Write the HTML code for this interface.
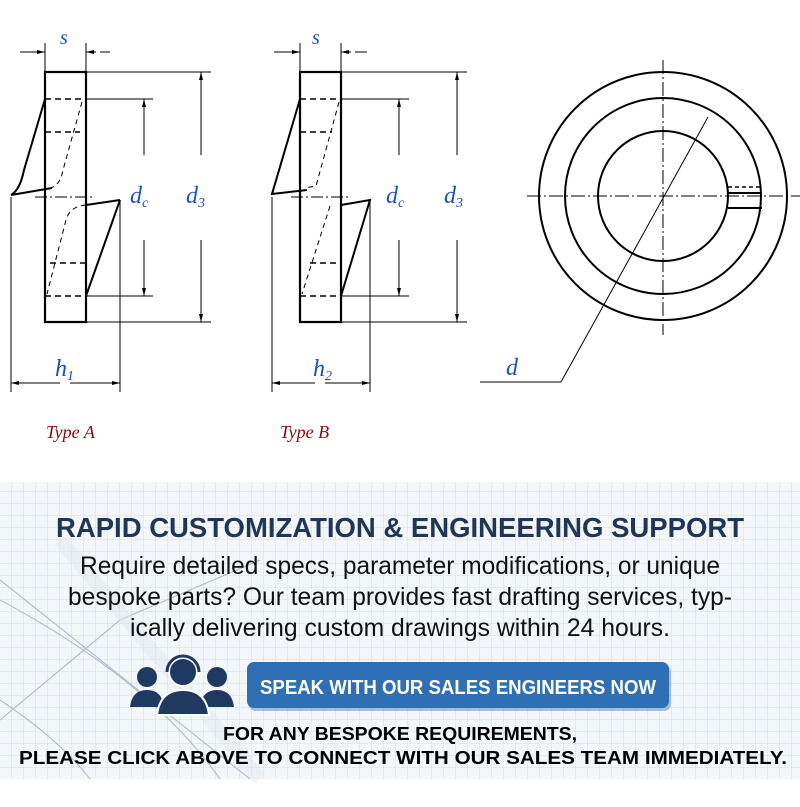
<!DOCTYPE html>
<html><head><meta charset="utf-8"><style>
html,body{margin:0;padding:0;background:#fff;width:800px;height:807px;overflow:hidden}
svg{display:block}
</style></head><body>
<svg width="800" height="807" viewBox="0 0 800 807" xmlns="http://www.w3.org/2000/svg">
<defs>
<pattern id="g" width="12" height="12" patternUnits="userSpaceOnUse">
<rect width="12" height="12" fill="#f4f7fa"/>
<path d="M12 0V12M0 12H12" stroke="#d3dde8" stroke-width="1"/>
</pattern>
<marker id="ar" markerWidth="8" markerHeight="6" refX="8" refY="3" orient="auto" markerUnits="userSpaceOnUse"><path d="M0,1 L8,3 L0,5z" fill="#000"/></marker>
</defs>
<rect width="800" height="807" fill="#fff"/>
<!-- banner -->
<rect x="0" y="482" width="800" height="297" fill="url(#g)"/>
<g stroke="#9fb3c8" fill="none" stroke-width="1.2" opacity="0.8">
<path d="M0 580 L250 779"/><path d="M0 720 L120 620 L260 560"/>
<path d="M0 600 Q150 680 220 779"/><path d="M0 700 Q60 740 90 779"/>
<path d="M60 540 L260 779" stroke="#dbe4ec" stroke-width="14" opacity="0.5"/>
</g>
<g font-family="Liberation Sans, sans-serif" text-anchor="middle">
<text x="400" y="537" font-size="28" font-weight="bold" fill="#1e3658" textLength="688" lengthAdjust="spacingAndGlyphs">RAPID CUSTOMIZATION &amp; ENGINEERING SUPPORT</text>
<text x="400" y="574" font-size="25" fill="#111" textLength="640" lengthAdjust="spacingAndGlyphs">Require detailed specs, parameter modifications, or unique</text>
<text x="400" y="605" font-size="25" fill="#111" textLength="664" lengthAdjust="spacingAndGlyphs">bespoke parts? Our team provides fast drafting services, typ-</text>
<text x="400" y="636" font-size="25" fill="#111" textLength="540" lengthAdjust="spacingAndGlyphs">ically delivering custom drawings within 24 hours.</text>
</g>
<rect x="249" y="665" width="422" height="46" rx="7" fill="#1f4f88" opacity="0.35"/>
<rect x="247" y="662" width="422" height="46" rx="7" fill="#2f6fb6"/>
<text x="458" y="694" font-family="Liberation Sans, sans-serif" font-size="20" font-weight="bold" fill="#fff" text-anchor="middle" textLength="396" lengthAdjust="spacingAndGlyphs">SPEAK WITH OUR SALES ENGINEERS NOW</text>
<g fill="#1f3a60">
<circle cx="147" cy="677" r="10"/><path d="M130 707 Q132 690 147 690 Q162 690 164 707z"/>
<circle cx="217" cy="677" r="10"/><path d="M200 707 Q202 690 217 690 Q232 690 234 707z"/>
<circle cx="183" cy="672" r="14" stroke="#fff" stroke-width="2"/><path d="M157 715 Q160 690 183 690 Q206 690 209 715z" stroke="#fff" stroke-width="2"/>
<path d="M167 672 A16 16 0 0 1 199 672" fill="none" stroke="#1f3a60" stroke-width="3"/>
</g>
<g font-family="Liberation Sans, sans-serif" font-weight="bold" fill="#000" text-anchor="middle">
<text x="400" y="740" font-size="18" textLength="354" lengthAdjust="spacingAndGlyphs">FOR ANY BESPOKE REQUIREMENTS,</text>
<text x="403" y="764" font-size="18" textLength="768" lengthAdjust="spacingAndGlyphs">PLEASE CLICK ABOVE TO CONNECT WITH OUR SALES TEAM IMMEDIATELY.</text>
</g>

<!-- Type A -->
<g stroke="#000" fill="none" stroke-width="1">
<rect x="45" y="72" width="41" height="250" stroke-width="2.2"/>
<path d="M45 99H86M45 132H80M50 263H86M45 296H86" stroke-dasharray="6,4" stroke-width="1.5"/>
<path d="M45 99 L24 170 Q20 190 11 195 L52 188" stroke-width="2"/>
<path d="M82 102 L63 170 Q60 186 50 188" stroke-dasharray="5,4"/>
<path d="M120 200 L86 296" stroke-width="2"/>
<path d="M86 205 L120 200" stroke-width="2"/>
<path d="M86 205 Q70 206 66 220 L47 294" stroke-dasharray="5,4"/>
<path d="M35 197H95" stroke-dasharray="12,3,2,3"/>
<path d="M20 52H35M100 52H110"/><path d="M35 52H45" marker-end="url(#ar)"/><path d="M96 52H86" marker-end="url(#ar)"/>
<path d="M45 43V72M86 43V72"/>
<path d="M86 72H211M86 322H211M86 99H153M86 296H153"/>
<path d="M144 155V99" marker-end="url(#ar)"/><path d="M144 240V296" marker-end="url(#ar)"/>
<path d="M201 155V72" marker-end="url(#ar)"/><path d="M201 240V322" marker-end="url(#ar)"/>
<path d="M11 197V392M120 200V392"/>
<path d="M60 383H11" marker-end="url(#ar)"/><path d="M70 383H120" marker-end="url(#ar)"/>
</g>
<!-- Type B -->
<g stroke="#000" fill="none" stroke-width="1">
<rect x="300" y="72" width="41" height="250" stroke-width="2.2"/>
<path d="M300 99H341M300 132H332M310 263H341M300 296H341" stroke-dasharray="6,4" stroke-width="1.5"/>
<path d="M300 99 L272 194 L307 190" stroke-width="2"/>
<path d="M339 102 L316 186 L305 188" stroke-dasharray="5,4"/>
<path d="M341 205 L370 200 L341 296" stroke-width="2"/>
<path d="M330 206 L302 294" stroke-dasharray="5,4"/>
<path d="M291 197H351" stroke-dasharray="12,3,2,3"/>
<path d="M274 52H290M355 52H367"/><path d="M290 52H300" marker-end="url(#ar)"/><path d="M351 52H341" marker-end="url(#ar)"/>
<path d="M300 43V72M341 43V72"/>
<path d="M341 72H467M341 322H467M341 99H409M341 296H409"/>
<path d="M399 155V99" marker-end="url(#ar)"/><path d="M399 240V296" marker-end="url(#ar)"/>
<path d="M457 155V72" marker-end="url(#ar)"/><path d="M457 240V322" marker-end="url(#ar)"/>
<path d="M272 197V392M370 200V392"/>
<path d="M315 383H272" marker-end="url(#ar)"/><path d="M325 383H370" marker-end="url(#ar)"/>
</g>
<!-- circle view -->
<g stroke="#000" fill="none">
<circle cx="663" cy="196" r="124" stroke-width="2"/>
<circle cx="663" cy="196" r="98" stroke-width="2"/>
<circle cx="663" cy="196" r="65" stroke-width="2"/>
<path d="M527 196H800M663 60V335" stroke-dasharray="14,3,2,3" stroke-width="1"/>
<path d="M728 193H762M728 208H762" stroke-width="2"/>
<path d="M728 187H762" stroke-dasharray="4,3" stroke-width="1.5"/>
<path d="M561 382 L708 117" stroke-width="1"/>
<path d="M480 382H561" stroke-width="1"/>
</g>
<g font-family="Liberation Serif, serif" font-style="italic" fill="#1b4fc4">
<text x="60" y="44" font-size="20">s</text>
<text x="312" y="44" font-size="20">s</text>
<text x="130" y="203" font-size="24">d<tspan font-size="14" dy="4">c</tspan></text>
<text x="186" y="203" font-size="24">d<tspan font-size="14" dy="4">3</tspan></text>
<text x="386" y="203" font-size="24">d<tspan font-size="14" dy="4">c</tspan></text>
<text x="444" y="203" font-size="24">d<tspan font-size="14" dy="4">3</tspan></text>
<text x="55" y="376" font-size="24">h<tspan font-size="14" dy="4">1</tspan></text>
<text x="313" y="376" font-size="24">h<tspan font-size="14" dy="4">2</tspan></text>
<text x="506" y="375" font-size="24">d</text>
</g>
<g font-family="Liberation Serif, serif" font-style="italic" fill="#8b0a0a" font-size="18">
<text x="46" y="438">Type A</text>
<text x="280" y="438">Type B</text>
</g>
</svg>
</body></html>
